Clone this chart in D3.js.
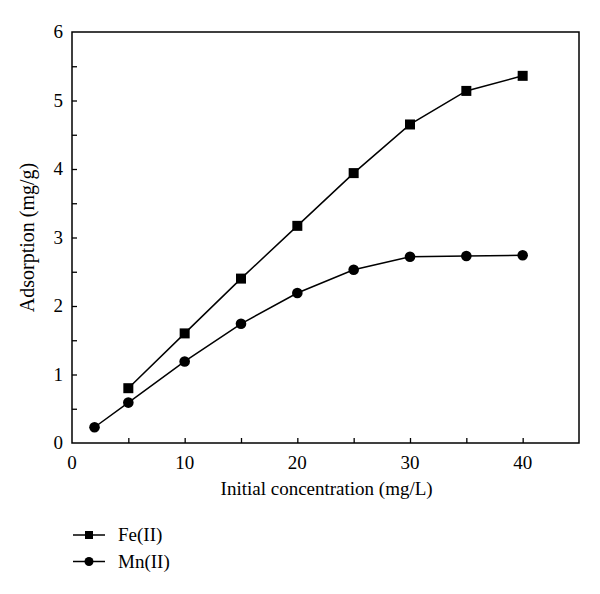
<!DOCTYPE html>
<html>
<head>
<meta charset="utf-8">
<script src="https://cdn.jsdelivr.net/npm/d3@7"></script>
<style>
  body { margin: 0; background: #fff; }
  text { font-family: "Liberation Serif", "DejaVu Serif", serif; fill: #000; }
</style>
</head>
<body>
<svg width="600" height="594"></svg>
<script>
// data
var conc = [2, 5, 10, 15, 20, 25, 30, 35, 40];
var feConc = [5, 10, 15, 20, 25, 30, 35, 40];
var feVals = [0.80, 1.60, 2.40, 3.17, 3.94, 4.65, 5.14, 5.36];
var mnVals = [0.23, 0.59, 1.19, 1.74, 2.19, 2.53, 2.72, 2.73, 2.74];
var xTicks = [0, 10, 20, 30, 40];
var yTicks = [0, 1, 2, 3, 4, 5, 6];
var seriesNames = ["Fe(II)", "Mn(II)"];

var margin = {top: 32, right: 21, bottom: 151, left: 72},
    width = 600 - margin.left - margin.right,
    height = 594 - margin.top - margin.bottom;

var svg = d3.select("svg").append("g")
    .attr("transform", "translate(" + margin.left + "," + margin.top + ")");

var x = d3.scaleLinear().domain([0, 45]).range([0, width]);
var y = d3.scaleLinear().domain([0, 6]).range([height, 0]);

// frame
svg.append("rect")
    .attr("width", width).attr("height", height)
    .attr("fill", "none").attr("stroke", "#000").attr("stroke-width", 1.5);

// x axis: inward ticks, minor at 5s
var xAxis = svg.append("g")
    .attr("transform", "translate(0," + height + ")")
    .call(d3.axisTop(x).tickValues(d3.range(5, 45, 5)).tickSize(5).tickFormat(""));
xAxis.select(".domain").remove();
xAxis.selectAll("line").attr("stroke-width", 1.3);

svg.append("g").selectAll("text").data(xTicks).enter().append("text")
    .attr("x", function(d) { return x(d); })
    .attr("y", height + 26)
    .attr("text-anchor", "middle")
    .style("font-size", "19px")
    .text(function(d) { return d; });

// y axis
var yAxis = svg.append("g")
    .call(d3.axisRight(y).tickValues(d3.range(0.5, 6, 0.5)).tickSize(5).tickFormat(""));
yAxis.select(".domain").remove();
yAxis.selectAll("line").attr("stroke-width", 1.3);

svg.append("g").selectAll("text").data(yTicks).enter().append("text")
    .attr("x", -9)
    .attr("y", function(d) { return y(d) + 6; })
    .attr("text-anchor", "end")
    .style("font-size", "19px")
    .text(function(d) { return d; });

// axis titles
svg.append("text")
    .attr("x", x(22.6)).attr("y", height + 52)
    .attr("text-anchor", "middle")
    .style("font-size", "19px")
    .text("Initial concentration (mg/L)");

svg.append("text")
    .attr("transform", "rotate(-90)")
    .attr("x", -y(3)).attr("y", -38)
    .attr("text-anchor", "middle")
    .style("font-size", "20px")
    .text("Adsorption (mg/g)");

var line = d3.line()
    .x(function(d) { return x(d[0]); })
    .y(function(d) { return y(d[1]); });

var fe = d3.zip(feConc, feVals);
var mn = d3.zip(conc, mnVals);

svg.append("path")
    .attr("fill", "none").attr("stroke", "#000").attr("stroke-width", 1.5)
    .attr("d", line(fe));
svg.append("path")
    .attr("fill", "none").attr("stroke", "#000").attr("stroke-width", 1.5)
    .attr("d", line(mn));

svg.selectAll(".sq").data(fe).enter().append("rect")
    .attr("class", "sq")
    .attr("x", function(d) { return x(d[0]) - 5; })
    .attr("y", function(d) { return y(d[1]) - 5; })
    .attr("width", 10).attr("height", 10)
    .attr("fill", "#000");

svg.selectAll(".dot").data(mn).enter().append("circle")
    .attr("class", "dot")
    .attr("cx", function(d) { return x(d[0]); })
    .attr("cy", function(d) { return y(d[1]); })
    .attr("r", 5.3)
    .attr("fill", "#000");

// legend
var legend = d3.select("svg").append("g");
var ly = [535, 561.5];
seriesNames.forEach(function(name, i) {
  var g = legend.append("g").attr("transform", "translate(0," + ly[i] + ")");
  g.append("line").attr("x1", 73).attr("x2", 105)
      .attr("stroke", "#000").attr("stroke-width", 1.5);
  if (i === 0) {
    g.append("rect").attr("x", 85).attr("y", -4).attr("width", 8).attr("height", 8).attr("fill", "#000");
  } else {
    g.append("circle").attr("cx", 89).attr("r", 4.5).attr("fill", "#000");
  }
  g.append("text").attr("x", 118).attr("y", 6)
      .style("font-size", "19px")
      .text(name);
});
</script>
</body>
</html>
